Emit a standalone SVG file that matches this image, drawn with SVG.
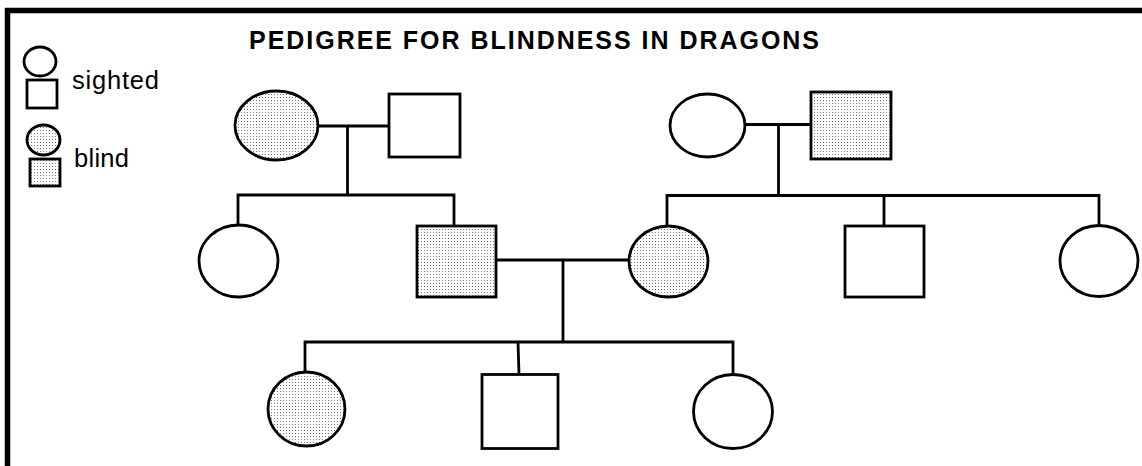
<svg xmlns="http://www.w3.org/2000/svg" width="1142" height="466" viewBox="0 0 1142 466">
<defs>
<pattern id="dots" width="3" height="3" patternUnits="userSpaceOnUse">
<rect width="3" height="3" fill="#fff"/>
<rect x="1" y="1" width="1" height="1" fill="#7a7a7a"/>
</pattern>
<style>
.n{stroke:#000;stroke-width:2.8;fill:#fff}
.b{fill:url(#dots)}
.c{stroke:#000;stroke-width:2.8;fill:none}
.t{font-family:"Liberation Sans",Arial,sans-serif;fill:#000}
</style>
</defs>
<rect x="0" y="0" width="1142" height="466" fill="#fff"/>
<rect x="7.5" y="10.5" width="1200" height="500" fill="none" stroke="#000" stroke-width="5.5"/>
<text class="t" x="249" y="49" font-size="25" font-weight="bold" textLength="570" lengthAdjust="spacing">PEDIGREE FOR BLINDNESS IN DRAGONS</text>
<g id="legend">
<ellipse class="n" cx="40" cy="61.5" rx="16" ry="14.5"/>
<rect class="n" x="27" y="80" width="30" height="28"/>
<text class="t" x="72" y="89" font-size="25.5" textLength="87" lengthAdjust="spacing">sighted</text>
<ellipse class="n b" cx="43.5" cy="140" rx="16.5" ry="15"/>
<rect class="n b" x="30" y="159" width="30" height="27"/>
<text class="t" x="74" y="167" font-size="25.5" textLength="55" lengthAdjust="spacing">blind</text>
</g>
<g id="connectors">
<polyline class="c" points="318,126 389,126"/>
<polyline class="c" points="347.5,126 347.5,195"/>
<polyline class="c" points="238,225 238,195 454,195 454,226"/>
<polyline class="c" points="745,124.5 811,124.5"/>
<polyline class="c" points="778.5,124.5 778.5,195.5"/>
<polyline class="c" points="667,226 667,195.5 1099,195.5 1099,226"/>
<polyline class="c" points="884,195.5 884,226"/>
<polyline class="c" points="496,260 629,260"/>
<polyline class="c" points="563,260 563,342"/>
<polyline class="c" points="305,372 305,342 733,342 733,374.5"/>
<polyline class="c" points="518,342 519,374.5"/>
</g>
<g id="g1-mother"><ellipse class="n b" cx="276.5" cy="125.5" rx="41.5" ry="34.5"/></g>
<g id="g1-father"><rect class="n" x="389" y="94" width="71" height="63"/></g>
<g id="g1b-mother"><ellipse class="n" cx="707.5" cy="125.5" rx="37.5" ry="31.5"/></g>
<g id="g1b-father"><rect class="n b" x="811" y="92" width="80" height="67"/></g>
<g id="g2-daughter1"><ellipse class="n" cx="238.5" cy="261" rx="39.5" ry="36"/></g>
<g id="g2-son1"><rect class="n b" x="417" y="226" width="79" height="71"/></g>
<g id="g2-daughter2"><ellipse class="n b" cx="668.5" cy="261.5" rx="39.5" ry="35.5"/></g>
<g id="g2-son2"><rect class="n" x="845" y="226" width="79" height="71"/></g>
<g id="g2-daughter3"><ellipse class="n" cx="1099" cy="261" rx="39" ry="35.5"/></g>
<g id="g3-daughter1"><ellipse class="n b" cx="306.5" cy="409" rx="38.5" ry="37"/></g>
<g id="g3-son"><rect class="n" x="482" y="374.5" width="76" height="74"/></g>
<g id="g3-daughter2"><ellipse class="n" cx="733" cy="411.5" rx="39.5" ry="37"/></g>
</svg>
